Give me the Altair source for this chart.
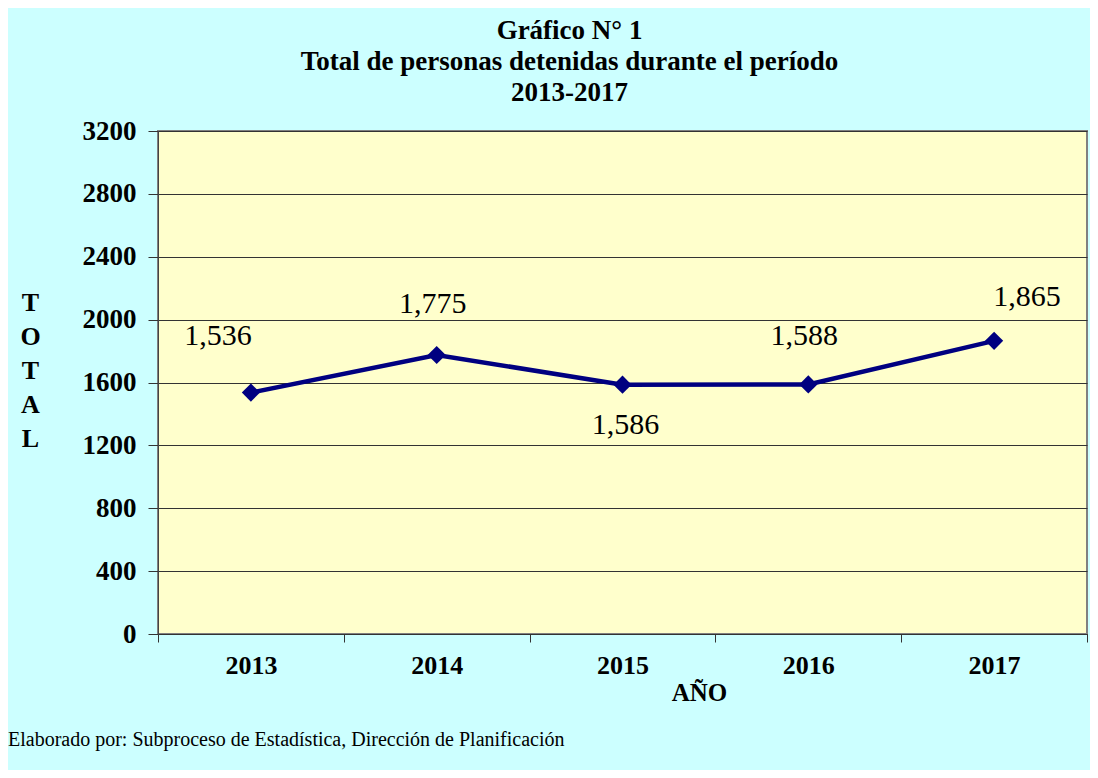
import altair as alt
import pandas as pd

years = ["2013", "2014", "2015", "2016", "2017"]
totals = [1536, 1775, 1586, 1588, 1865]
value_labels = ["1,536", "1,775", "1,586", "1,588", "1,865"]
y_ticks = [0, 400, 800, 1200, 1600, 2000, 2400, 2800, 3200]
title_lines = ["Gráfico N° 1", "Total de personas detenidas durante el período", "2013-2017"]
y_title = ["T", "O", "T", "A", "L"]
x_title = "AÑO"
footer = "Elaborado por: Subproceso de Estadística, Dirección de Planificación"

df = pd.DataFrame({"year": years, "total": totals, "label": value_labels})

SERIF = "Liberation Serif"
W, H = 929, 503

x_enc = alt.X(
    "year:N",
    bandPosition=0.5,
    scale=alt.Scale(type="band", paddingInner=0, paddingOuter=0),
    axis=alt.Axis(
        title=x_title, labelAngle=0, tickBand="extent", grid=False,
        labelFont=SERIF, labelFontSize=26, labelFontWeight="bold", labelColor="black",
        labelPadding=10, tickSize=8, tickColor="#333333", domainColor="#333333",
        titleFont=SERIF, titleFontSize=25, titleFontWeight="bold", titleColor="black",
        titleX=541, titleY=58, titleAlign="center", titleBaseline="middle",
    ),
)
y_enc = alt.Y(
    "total:Q",
    scale=alt.Scale(domain=[0, 3200], nice=False),
    axis=alt.Axis(
        values=y_ticks, format="d", grid=True, gridColor="#333333", gridWidth=1,
        labelFont=SERIF, labelFontSize=27, labelFontWeight="bold", labelColor="black",
        labelPadding=12, tickSize=10, tickColor="#333333", domainColor="#444444",
        title=y_title, titleAngle=0, titleFont=SERIF, titleFontSize=26,
        titleFontWeight="bold", titleColor="black", titleLineHeight=34,
        titleX=-128, titleY=171, titleAlign="center", titleBaseline="middle",
    ),
)

base = alt.Chart(df).encode(x=x_enc, y=y_enc)

line = base.mark_line(color="#000080", strokeWidth=4.5)
pts = base.mark_point(shape="diamond", size=330, filled=True, color="#000080", opacity=1)

offsets = [(-33, -57), (-4, -51), (3, 40), (-4, -48), (33, -44)]
label_layers = []
for yr, (ddx, ddy) in zip(years, offsets):
    label_layers.append(
        base.transform_filter(alt.datum.year == yr).mark_text(
            font=SERIF, fontSize=30, color="black", dx=ddx, dy=ddy
        ).encode(text="label:N")
    )

foot = alt.Chart(pd.DataFrame({"t": [footer]})).mark_text(
    font=SERIF, fontSize=20, color="black", align="left", baseline="middle"
).encode(x=alt.value(-150), y=alt.value(609), text="t:N")

chart = alt.layer(line, pts, *label_layers, foot).properties(
    width=W, height=H,
    title=alt.TitleParams(
        text=title_lines, font=SERIF, fontSize=27, fontWeight="bold", color="black",
        lineHeight=31, anchor="middle", dx=-53, offset=10,
    ),
    autosize=alt.AutoSizeParams(type="none"),
    padding={"left": 150, "top": 123, "right": 3, "bottom": 136},
    background="#CCFFFF",
).configure_view(
    fill="#FFFFCC", stroke="#808080", strokeWidth=2
)

chart.save("out.html", embed_options={"renderer": "svg", "actions": False})
